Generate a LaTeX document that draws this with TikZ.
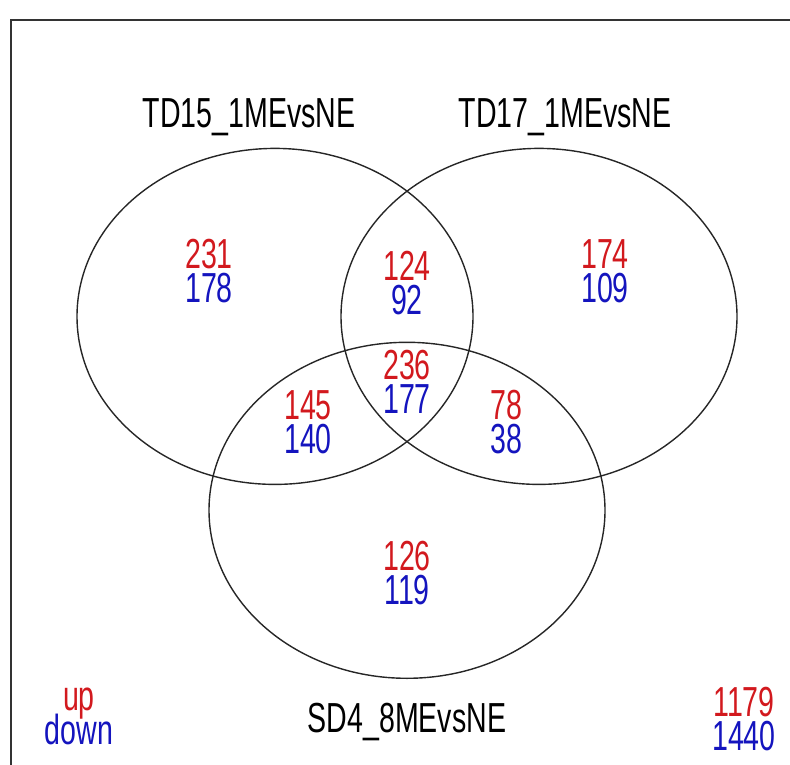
\documentclass[tikz,border=0pt]{standalone}
\usepackage{fontspec}
\setmainfont{Liberation Sans}
\usepackage{graphicx}
\definecolor{upred}{RGB}{210,25,30}
\definecolor{downblue}{RGB}{20,20,190}
\newcommand\sq[1]{\scalebox{0.68}[1]{#1}}
\begin{document}
\begin{tikzpicture}[x=1pt,y=-1pt,
  lab/.style={inner sep=0pt, font=\fontsize{42}{42}\selectfont},
  upn/.style={lab, text=upred, anchor=base},
  dnn/.style={lab, text=downblue, anchor=north},
  title/.style={lab, text=black, anchor=base},
  setline/.style={draw=black!85, line width=1.4pt},
  frameline/.style={draw=black!80, line width=1.8pt}]
\useasboundingbox (0,0) rectangle (790,765);
% frame
\coordinate (fbl) at (11,765);
\coordinate (ftl) at (11,20);
\coordinate (ftr) at (790,20);
\draw[frameline] (fbl) -- (ftl) -- (ftr);
% sets
\draw[setline] (275,316.4) ellipse [x radius=198pt, y radius=168pt];
\draw[setline] (539,316.4) ellipse [x radius=198pt, y radius=168pt];
\draw[setline] (407,510.3) ellipse [x radius=198pt, y radius=168pt];
% titles
\node[title] (tA) at (249,127.5) {\sq{TD15\_1MEvsNE}};
\node[title] (tB) at (565,127.5) {\sq{TD17\_1MEvsNE}};
\node[title] (tC) at (407,732) {\sq{SD4\_8MEvsNE}};
% counts
\node[upn] (u100) at (209,268) {\sq{231}};
\node[dnn] (d100) at (209,273) {\sq{178}};
\node[upn] (u010) at (605,268) {\sq{174}};
\node[dnn] (d010) at (605,273) {\sq{109}};
\node[upn] (u110) at (407,280) {\sq{124}};
\node[dnn] (d110) at (407,285) {\sq{92}};
\node[upn] (u111) at (407,379) {\sq{236}};
\node[dnn] (d111) at (407,384) {\sq{177}};
\node[upn] (u101) at (308,419) {\sq{145}};
\node[dnn] (d101) at (308,424) {\sq{140}};
\node[upn] (u011) at (506,419) {\sq{78}};
\node[dnn] (d011) at (506,424) {\sq{38}};
\node[upn] (u001) at (407,570) {\sq{126}};
\node[dnn] (d001) at (407,575) {\sq{119}};
\node[upn] (u000) at (744,716) {\sq{1179}};
\node[dnn] (d000) at (744,721) {\sq{1440}};
% legend
\node[upn] (lup) at (79,710) {\sq{up}};
\node[dnn] (ldown) at (79,714) {\sq{down}};
\end{tikzpicture}
\end{document}
